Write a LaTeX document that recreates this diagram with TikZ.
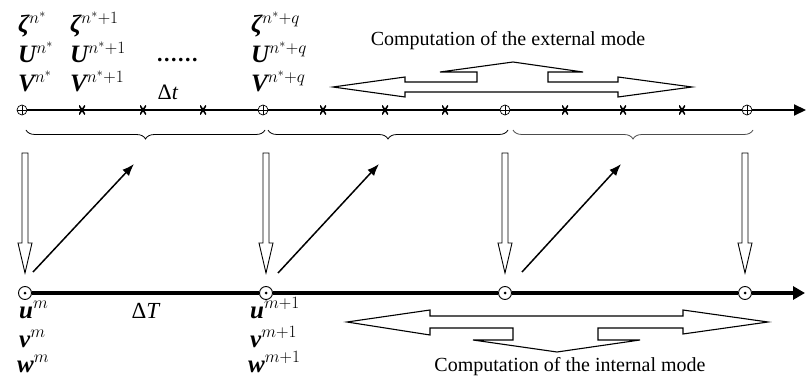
\documentclass[tikz,border=0pt]{standalone}
\usepackage{fontspec}
\setmainfont{Liberation Serif}
\usetikzlibrary{arrows.meta,decorations.pathreplacing,calc}
\begin{document}
\begin{tikzpicture}[x=1pt,y=-1pt,
  tnode/.style={circle,draw,line width=0.7pt,minimum size=10pt,inner sep=0pt,fill=white,
    path picture={\draw[black,line width=0.7pt] (path picture bounding box.north)--(path picture bounding box.south) (path picture bounding box.west)--(path picture bounding box.east);}},
  bnode/.style={circle,draw,line width=0.9pt,minimum size=13pt,inner sep=0pt,fill=white,
    path picture={\fill[black] (path picture bounding box.center) circle (1.5pt);}},
  xmark/.style={inner sep=0pt,minimum width=6pt,minimum height=9pt,
    path picture={\draw[line width=1.6pt] (path picture bounding box.north west)--(path picture bounding box.south east) (path picture bounding box.north east)--(path picture bounding box.south west);}},
  topline/.style={line width=2pt},
  botline/.style={line width=3.2pt},
  hollow/.style={draw,line width=0.9pt,fill=white},
  diag/.style={line width=1.5pt,-{Latex[length=12pt,width=9pt]}},
  brc/.style={draw,line width=0.8pt,decorate,decoration={brace,mirror,amplitude=9pt}},
  lab/.style={anchor=base west,inner sep=0pt,font=\fontsize{25}{28}\selectfont},
  txt/.style={anchor=base,inner sep=0pt,font=\fontsize{20}{24}\selectfont},
  shape3/.style={draw,line width=1.1pt,line join=miter}
]
\useasboundingbox (0,0) rectangle (808,382);

% top time line
\node[tnode] (t0) at (22,110) {};
\node[tnode] (t1) at (263,110) {};
\node[tnode] (t2) at (505,110) {};
\node[tnode] (t3) at (747,110) {};
\coordinate (tend) at (806,110);
\draw[topline] (t0) -- (t1);
\draw[topline] (t1) -- (t2);
\draw[topline] (t2) -- (t3);
\draw[topline,-{Triangle[length=12pt,width=11pt]}] (t3) -- (tend);
\foreach \i/\x in {1/82,2/143,3/203,4/323,5/385,6/445,7/565,8/623,9/682}
  \node[xmark] (x\i) at (\x,110) {};

% bottom time line
\node[bnode] (b0) at (25,293) {};
\node[bnode] (b1) at (266,293) {};
\node[bnode] (b2) at (505,293) {};
\node[bnode] (b3) at (745,293) {};
\coordinate (bend) at (805,293);
\draw[botline] (b0) -- (b1);
\draw[botline] (b1) -- (b2);
\draw[botline] (b2) -- (b3);
\draw[botline,-{Triangle[length=12pt,width=13pt]}] (b3) -- (bend);

% braces
\coordinate (br0a) at (26,130); \coordinate (br0b) at (265,130);
\coordinate (br1a) at (268,130); \coordinate (br1b) at (508,130);
\coordinate (br2a) at (513,130); \coordinate (br2b) at (753,130);
\draw[brc] (br0a) -- (br0b);
\draw[brc] (br1a) -- (br1b);
\draw[brc,draw=black!70] (br2a) -- (br2b);

% hollow down arrows
\foreach \n in {b0,b1,b2,b3}
  \draw[hollow] ($(\n)+(-3,-140)$) -- ++(0,90) -- ++(-4,0) -- ++(7,30) -- ++(7,-30) -- ++(-4,0) -- ++(0,-90) -- cycle;

% diagonal arrows
\coordinate (d0s) at (33,272); \coordinate (d0e) at (134,164);
\coordinate (d1s) at (278,273); \coordinate (d1e) at (379,164);
\coordinate (d2s) at (522,272); \coordinate (d2e) at (621,164);
\draw[diag] (d0s) -- (d0e);
\draw[diag] (d1s) -- (d1e);
\draw[diag] (d2s) -- (d2e);

% top labels
\node[lab] (z0) at (18,33) {\bfseries\itshape ζ$^{n^*}$};
\node[lab] (u0) at (18,63) {\bfseries\itshape U$^{n^*}$};
\node[lab] (v0) at (18,92) {\bfseries\itshape V$^{n^*}$};
\node[lab] (z1) at (70,33) {\bfseries\itshape ζ$^{n^*+1}$};
\node[lab] (u1) at (70,63) {\bfseries\itshape U$^{n^*+1}$};
\node[lab] (v1) at (70,92) {\bfseries\itshape V$^{n^*+1}$};
\node[lab] (z2) at (251,33) {\bfseries\itshape ζ$^{n^*+q}$};
\node[lab] (u2) at (251,63) {\bfseries\itshape U$^{n^*+q}$};
\node[lab] (v2) at (251,92) {\bfseries\itshape V$^{n^*+q}$};
\node[lab,font=\fontsize{22}{26}\selectfont] (dots) at (157,62) {\bfseries .\kern1.5pt.\kern1.5pt.\kern1.5pt.\kern1.5pt.\kern1.5pt.};
\node[txt,font=\fontsize{22}{24}\selectfont] (dt) at (168,100) {Δ\textit{t}};

% bottom labels
\node[lab] (um) at (19,318) {\bfseries\itshape u$^{m}$};
\node[lab] (vm) at (19,347) {\bfseries\itshape v$^{m}$};
\node[lab] (wm) at (17,372) {\bfseries\itshape w$^{m}$};
\node[lab] (um1) at (250,318) {\bfseries\itshape u$^{m+1}$};
\node[lab] (vm1) at (250,347) {\bfseries\itshape v$^{m+1}$};
\node[lab] (wm1) at (248,372) {\bfseries\itshape w$^{m+1}$};
\node[txt,font=\fontsize{23}{26}\selectfont] (dT) at (146,318) {Δ\textit{T}};

% external mode
\node[txt] (ext) at (508,46) {Computation of the external mode};
\draw[shape3] (333,87) -- (405,77) -- (405,82) -- (477,82) -- (477,72) -- (440,72)
  -- (513,62) -- (583,72) -- (548,72) -- (548,82) -- (618,82) -- (618,77)
  -- (692,87) -- (618,97) -- (618,92) -- (405,92) -- (405,97) -- cycle;

% internal mode
\node[txt] (int) at (570,371) {Computation of the internal mode};
\draw[shape3] (347,322) -- (430,310) -- (430,316) -- (683,316) -- (683,310)
  -- (768,322) -- (683,334) -- (683,328) -- (598,328) -- (598,340) -- (640,340)
  -- (557,352) -- (473,340) -- (513,340) -- (513,328) -- (430,328) -- (430,335) -- cycle;
\end{tikzpicture}
\end{document}
